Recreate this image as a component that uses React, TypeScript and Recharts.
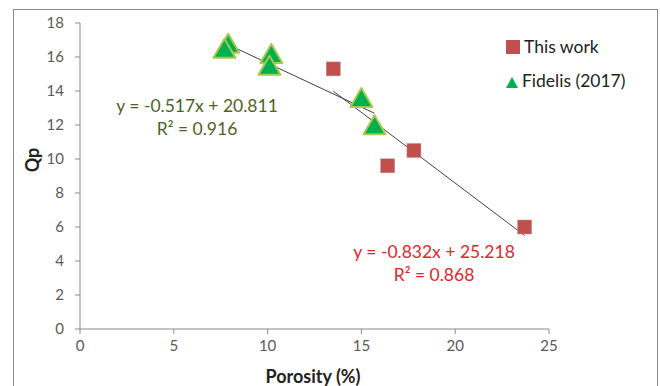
import React from 'react';
import { ScatterChart, Scatter, XAxis, YAxis } from 'recharts';

// porosity (%) vs Qp
const thisWorkX = [13.5, 16.4, 17.8, 23.7];
const thisWorkY = [15.3, 9.6, 10.5, 6.0];
const fidelisX = [7.9, 7.7, 10.2, 10.1, 15.0, 15.7];
const fidelisY = [16.7, 16.4, 16.1, 15.4, 13.5, 11.9];

// trendline ends as drawn
const fidelisTrendX = [7.7, 15.7];
const fidelisTrendY = [16.83, 12.69];
const thisWorkTrendX = [13.5, 23.7];
const thisWorkTrendY = [13.99, 5.5];

const xTicks = [0, 5, 10, 15, 20, 25];
const yTicks = [0, 2, 4, 6, 8, 10, 12, 14, 16, 18];

const zip = (xs: number[], ys: number[]) => xs.map((x, i) => ({ x, y: ys[i] }));

const thisWork = zip(thisWorkX, thisWorkY);
const fidelis = zip(fidelisX, fidelisY);
const fidelisTrend = zip(fidelisTrendX, fidelisTrendY);
const thisWorkTrend = zip(thisWorkTrendX, thisWorkTrendY);

const FONT = 'Lato, "Open Sans", sans-serif';
const RED = '#C0504D';
const GREEN = '#00B050';
const GREEN_EDGE = '#A8C84A';

const Square = (props: any) => {
    const { cx, cy } = props;
    return <rect x={cx - 7} y={cy - 7} width={14} height={14} fill={RED} stroke="#D08C8A" strokeWidth={0.5} />;
};

const Triangle = (props: any) => {
    const { cx, cy } = props;
    const h = 19;
    const w = 22;
    return (
        <polygon
            points={`${cx},${cy - h * 0.6} ${cx - w / 2},${cy + h * 0.4} ${cx + w / 2},${cy + h * 0.4}`}
            fill={GREEN}
            stroke={GREEN_EDGE}
            strokeWidth={2}
            strokeLinejoin="round"
        />
    );
};

const NoDot = () => <g />;

const tickStyle = { fill: '#595959', fontSize: 15, fontFamily: FONT };

export default function App() {
    return (
        <div style={{ position: 'absolute', left: 0, top: 0, width: 660, height: 386, background: '#fff', fontFamily: FONT, overflow: 'hidden' }}>
            <div style={{ position: 'absolute', left: 13, top: 9, width: 643, height: 400, border: '1px solid #8a8a8a' }} />
            <ScatterChart width={660} height={386} margin={{ top: 23, right: 111, bottom: 27, left: 0 }} style={{ fontFamily: FONT }}>
                <XAxis
                    type="number"
                    dataKey="x"
                    domain={[0, 25]}
                    ticks={xTicks}
                    height={30}
                    tick={tickStyle}
                    fontSize={15}
                    tickSize={5}
                    tickMargin={6}
                    stroke="#8a8a8a"
                />
                <YAxis
                    type="number"
                    dataKey="y"
                    domain={[0, 18]}
                    ticks={yTicks}
                    width={80}
                    tick={tickStyle}
                    fontSize={15}
                    tickSize={5}
                    tickMargin={11}
                    stroke="#8a8a8a"
                />
                <Scatter data={fidelisTrend} line={{ stroke: '#404040', strokeWidth: 1 }} shape={NoDot} isAnimationActive={false} legendType="none" />
                <Scatter data={thisWorkTrend} line={{ stroke: '#404040', strokeWidth: 1 }} shape={NoDot} isAnimationActive={false} legendType="none" />
                <Scatter name="This work" data={thisWork} shape={Square} isAnimationActive={false} />
                <Scatter name="Fidelis (2017)" data={fidelis} shape={Triangle} isAnimationActive={false} />
            </ScatterChart>

            {/* axis titles */}
            <div style={{ position: 'absolute', left: 32, top: 160, transform: 'translate(-50%,-50%) rotate(-90deg)', fontWeight: 700, fontSize: 18, color: '#222' }}>Qp</div>
            <div style={{ position: 'absolute', left: 313, top: 376, transform: 'translate(-50%,-50%)', fontWeight: 700, fontSize: 18, color: '#222', whiteSpace: 'nowrap' }}>Porosity (%)</div>

            {/* trendline equations */}
            <div style={{ position: 'absolute', left: 197, top: 117, transform: 'translate(-50%,-50%)', color: '#4F6228', fontSize: 17.5, lineHeight: '23px', textAlign: 'center', whiteSpace: 'nowrap' }}>
                y = -0.517x + 20.811<br />R² = 0.916
            </div>
            <div style={{ position: 'absolute', left: 434, top: 263, transform: 'translate(-50%,-50%)', color: '#E0262B', fontSize: 17.5, lineHeight: '23px', textAlign: 'center', whiteSpace: 'nowrap' }}>
                y = -0.832x + 25.218<br />R² = 0.868
            </div>

            {/* legend */}
            <div style={{ position: 'absolute', left: 506, top: 40, width: 14, height: 14, background: RED }} />
            <div style={{ position: 'absolute', left: 524, top: 46, transform: 'translateY(-50%)', fontSize: 17.5, color: '#222', whiteSpace: 'nowrap' }}>This work</div>
            <svg style={{ position: 'absolute', left: 505, top: 76 }} width={14} height={13}>
                <polygon points="7,1 1,12 13,12" fill={GREEN} />
            </svg>
            <div style={{ position: 'absolute', left: 522, top: 80, transform: 'translateY(-50%)', fontSize: 17.5, color: '#222', whiteSpace: 'nowrap' }}>Fidelis (2017)</div>
        </div>
    );
}
